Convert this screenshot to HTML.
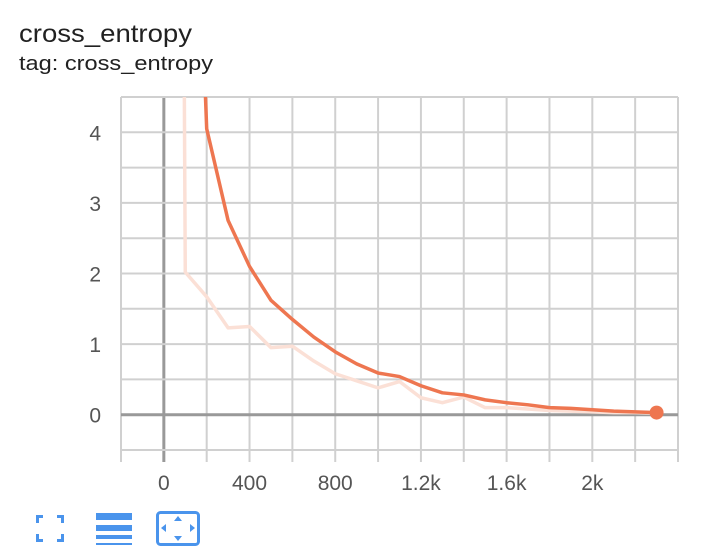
<!DOCTYPE html>
<html><head><meta charset="utf-8"><style>
body{margin:0;background:#fff;font-family:"Liberation Sans",sans-serif;}
svg{display:block}
</style></head><body>
<svg id="chart" width="712" height="556">
<text x="19" y="42" font-size="25" textLength="173" lengthAdjust="spacingAndGlyphs" fill="#212121">cross_entropy</text>
<text x="19" y="70" font-size="20" textLength="194" lengthAdjust="spacingAndGlyphs" fill="#212121">tag: cross_entropy</text>
<g id="grid"></g>
<g id="series"></g>
<g fill="#4a94ec">
<rect x="36" y="515" width="7" height="3"/><rect x="36" y="515" width="3" height="8"/>
<rect x="57" y="515" width="7" height="3"/><rect x="61" y="515" width="3" height="8"/>
<rect x="36" y="539" width="7" height="3"/><rect x="36" y="534" width="3" height="8"/>
<rect x="57" y="539" width="7" height="3"/><rect x="61" y="534" width="3" height="8"/>
</g>
<g fill="#4a94ec">
<rect x="96" y="513" width="36" height="7"/><rect x="96" y="525" width="36" height="6"/><rect x="96" y="535" width="36" height="4"/><rect x="96" y="543" width="36" height="2"/>
</g>
<g fill="#4a94ec">
<rect x="157.5" y="512.5" width="41" height="32" rx="3" fill="none" stroke="#4a94ec" stroke-width="3"/>
<polygon points="178,516 174,521 182,521"/><polygon points="178,541 174,536 182,536"/>
<polygon points="161,528 166,524 166,532"/><polygon points="195,528 190,524 190,532"/>
</g>
</svg>
<script>
const steps=[0,100,200,300,400,500,600,700,800,900,1000,1100,1200,1300,1400,1500,1600,1700,1800,1900,2000,2100,2200,2300];
const rawValues=[60,2.02,1.67,1.23,1.25,0.95,0.97,0.76,0.58,0.48,0.38,0.47,0.24,0.17,0.25,0.1,0.1,0.08,0.06,0.05,0.04,0.03,0.03,0.02];
const smoothValues=[60,12,4.05,2.75,2.1,1.62,1.35,1.1,0.89,0.72,0.59,0.54,0.41,0.31,0.28,0.21,0.17,0.14,0.1,0.09,0.07,0.05,0.04,0.03];
const xTicks=[0,400,800,1200,1600,2000];
const xTickLabels=["0","400","800","1.2k","1.6k","2k"];
const yTicks=[0,1,2,3,4];
const yTickLabels=["0","1","2","3","4"];
const X0=121,X1=678,Y0=97,Y1=450,xmin=-200,xmax=2400,ymin=-0.5,ymax=4.5;
const sx=v=>X0+(v-xmin)/(xmax-xmin)*(X1-X0);
const sy=v=>Y1-(v-ymin)/(ymax-ymin)*(Y1-Y0);
const NS="http://www.w3.org/2000/svg";
const grid=document.getElementById('grid'),ser=document.getElementById('series');
function mk(t,a,p){const e=document.createElementNS(NS,t);for(const k in a)e.setAttribute(k,a[k]);p.appendChild(e);return e;}
for(let v=-200;v<=2400;v+=200){const l=mk('line',{x1:sx(v),x2:sx(v),y1:Y0,y2:Y1+12,stroke:v===0?'#999':'#d0d0d0','stroke-width':v===0?3:2},grid);

}
for(let v=-0.5;v<=4.5001;v+=0.5){const l=mk('line',{x1:X0,x2:X1,y1:sy(v),y2:sy(v),stroke:Math.abs(v)<1e-9?'#999':'#d0d0d0','stroke-width':Math.abs(v)<1e-9?3:2},grid);

}
xTicks.forEach((v,i)=>{const t=mk('text',{x:sx(v),y:490,'text-anchor':'middle','font-size':21,fill:'#555'},grid);t.textContent=xTickLabels[i];

});
yTicks.forEach((v,i)=>{const t=mk('text',{x:101,y:sy(v)+8,'text-anchor':'end','font-size':21,fill:'#555'},grid);t.textContent=yTickLabels[i];

});
mk('clipPath',{id:'cp'},ser).appendChild(document.createElementNS(NS,'rect'));
const cr=ser.querySelector('clipPath rect');cr.setAttribute('x',X0);cr.setAttribute('y',Y0);cr.setAttribute('width',X1-X0);cr.setAttribute('height',Y1-Y0);
const pts=a=>steps.map((s,i)=>sx(s)+','+sy(a[i])).join(' ');
const raw=mk('polyline',{points:pts(rawValues),fill:'none',stroke:'#fbe0d6','stroke-width':3.5,'clip-path':'url(#cp)','stroke-linejoin':'round'},ser);


const sm=mk('polyline',{points:pts(smoothValues),fill:'none',stroke:'#ee7650','stroke-width':3.5,'clip-path':'url(#cp)','stroke-linejoin':'round'},ser);


const n=steps.length-1;
const dot=mk('circle',{cx:sx(steps[n]),cy:sy(smoothValues[n]),r:7,fill:'#ee7650'},ser);


</script>
</body></html>
